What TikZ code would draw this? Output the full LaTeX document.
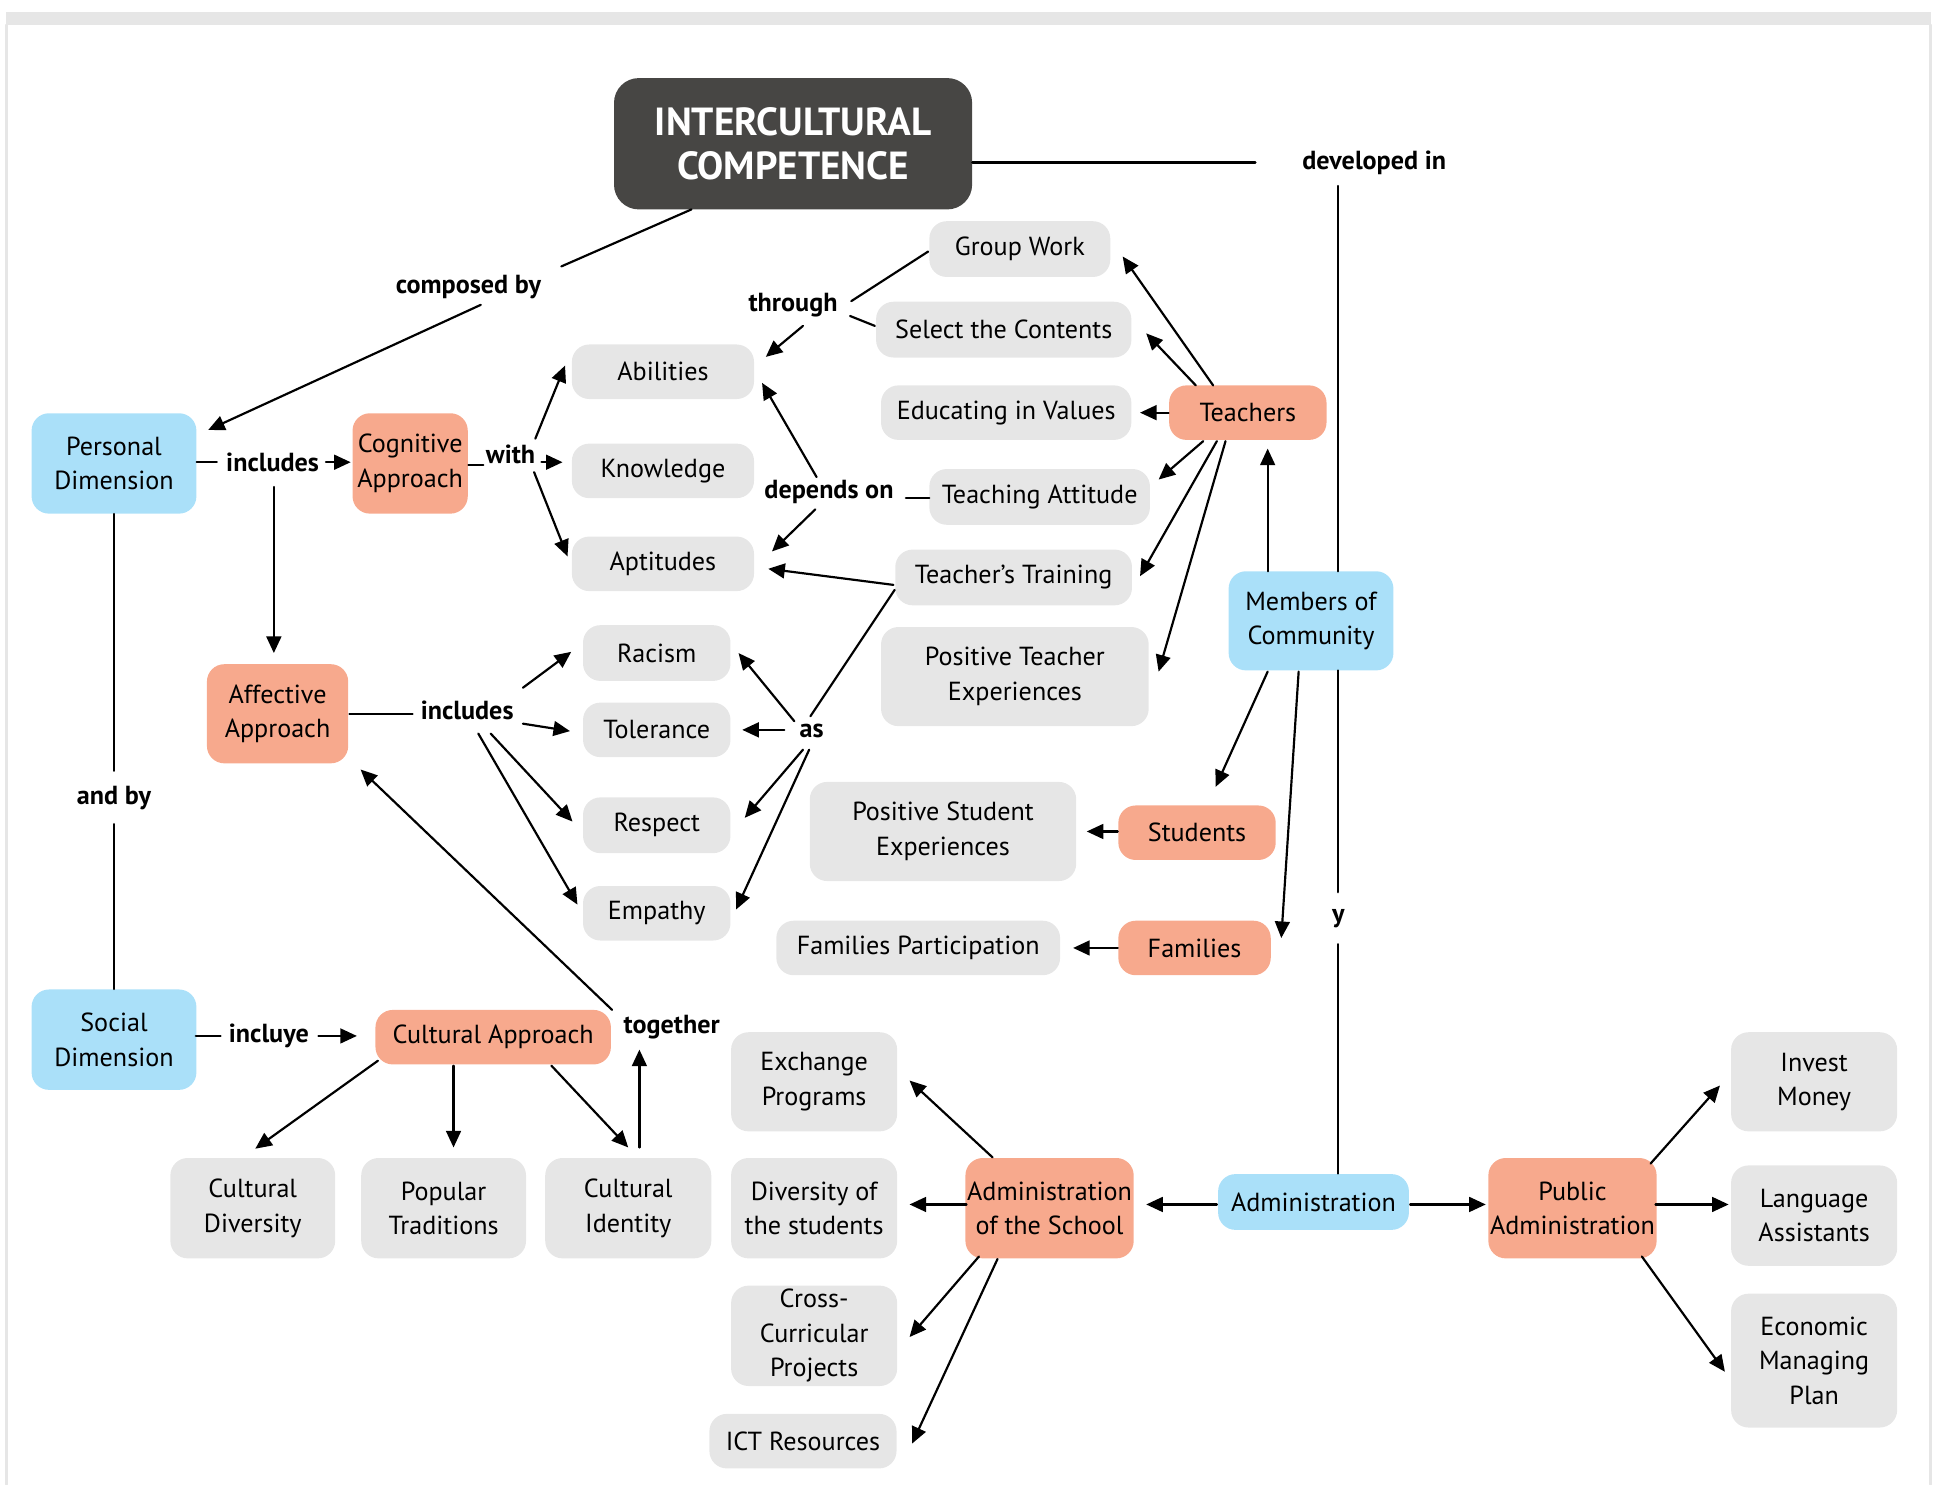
\documentclass[tikz,border=0pt]{standalone}
\usepackage{fontspec}
\setmainfont{PT Sans}
\usetikzlibrary{arrows.meta, calc}
\definecolor{boxgray}{HTML}{E6E6E6}
\definecolor{salmon}{HTML}{F7A98D}
\definecolor{skyblue}{HTML}{AAE0F9}
\definecolor{darkbox}{HTML}{474644}

\begin{document}
\begin{tikzpicture}[x=0.025cm, y=-0.025cm, line cap=round,
  every node/.style={font=\fontsize{15}{19.8}\selectfont, align=center},
  wh/.style 2 args={minimum width=#1*0.025cm, minimum height=#2*0.025cm, inner sep=1pt, rounded corners=0.35cm},
  concept/.style={fill=boxgray},
  approach/.style={fill=salmon},
  dimension/.style={fill=skyblue},
  link/.style={font=\fontsize{15}{18}\selectfont\bfseries, inner sep=1pt},
  conn/.style={line width=1.25pt},
  arr/.style={conn, -{Triangle[length=9.5pt, width=8.5pt]}}]
  \useasboundingbox (0,0) rectangle (1568,1198);
  \fill[boxgray] (5,10) rectangle (1558,20);
  \draw[boxgray, line width=1.5pt] (5,20) -- (5,1198) (1558,20) -- (1558,1198);

  \node[wh={289}{106}, rounded corners=0.5cm, fill=darkbox, text=white, font=\fontsize{22.5}{25}\selectfont\bfseries] (title) at (640,116) {INTERCULTURAL\\COMPETENCE};

  \node[wh={133}{81}, dimension] (pers) at (92,374) {Personal\\Dimension};
  \node[wh={93}{81}, approach] (cogn) at (331,374) {Cognitive\\Approach};
  \node[wh={147}{44}, concept] (abil) at (535,300) {Abilities};
  \node[wh={147}{44}, concept] (know) at (535,380) {Knowledge};
  \node[wh={147}{44}, concept] (apti) at (535,455) {Aptitudes};
  \node[wh={146}{45}, concept] (grpw) at (823,201) {Group Work};
  \node[wh={206}{45}, concept] (selc) at (810,266) {Select the Contents};
  \node[wh={202}{44}, concept] (educ) at (812,333) {Educating in Values};
  \node[wh={127}{44}, approach] (teach) at (1007,333) {Teachers};
  \node[wh={178}{45}, concept] (tatt) at (839,401) {Teaching Attitude};
  \node[wh={191}{45}, concept] (ttra) at (818,466) {Teacher’s Training};
  \node[wh={216}{80}, concept] (ptex) at (819,546) {Positive Teacher\\Experiences};
  \node[wh={133}{80}, dimension] (memb) at (1058,501) {Members of\\Community};
  \node[wh={114}{80}, approach] (affe) at (224,576) {Affective\\Approach};
  \node[wh={119}{45}, concept] (raci) at (530,527) {Racism};
  \node[wh={119}{44}, concept] (tole) at (530,589) {Tolerance};
  \node[wh={119}{45}, concept] (resp) at (530,666) {Respect};
  \node[wh={119}{44}, concept] (empa) at (530,737) {Empathy};
  \node[wh={215}{80}, concept] (psex) at (761,671) {Positive Student\\Experiences};
  \node[wh={127}{44}, approach] (stud) at (966,672) {Students};
  \node[wh={229}{44}, concept] (fpar) at (741,765) {Families Participation};
  \node[wh={123}{44}, approach] (fami) at (964,765) {Families};
  \node[wh={133}{81}, dimension] (soci) at (92,839) {Social\\Dimension};
  \node[wh={190}{44}, approach] (cult) at (398,837) {Cultural Approach};
  \node[wh={133}{81}, concept] (cdiv) at (204,975) {Cultural\\Diversity};
  \node[wh={133}{81}, concept] (popt) at (358,975) {Popular\\Traditions};
  \node[wh={134}{81}, concept] (cide) at (507,975) {Cultural\\Identity};
  \node[wh={134}{80}, concept] (exch) at (657,873) {Exchange\\Programs};
  \node[wh={134}{81}, concept] (dstu) at (657,975) {Diversity of\\the students};
  \node[wh={134}{81}, concept] (ccur) at (657,1078) {Cross-\\Curricular\\Projects};
  \node[wh={151}{44}, concept] (ictr) at (648,1163) {ICT Resources};
  \node[wh={133}{81}, approach] (adms) at (847,975) {Administration\\of the School};
  \node[wh={154}{45}, dimension] (admi) at (1060,970) {Administration};
  \node[wh={133}{81}, approach] (puba) at (1269,975) {Public\\Administration};
  \node[wh={134}{80}, concept] (invm) at (1464,873) {Invest\\Money};
  \node[wh={134}{81}, concept] (lang) at (1464,981) {Language\\Assistants};
  \node[wh={134}{108}, concept] (econ) at (1464,1098) {Economic\\Managing\\Plan};

  \node[link] (lcomp) at (378,232) {composed by};
  \node[link] (ldev) at (1109,131) {developed in};
  \node[link] (lthr) at (640,246) {through};
  \node[link] (linc) at (220,373) {includes};
  \node[link] (lwith) at (412,367) {with};
  \node[link] (ldep) at (669,397) {depends on};
  \node[link] (linc2) at (377,573) {includes};
  \node[link] (las) at (655,590) {as};
  \node[link] (land) at (92,644) {and by};
  \node[link] (lincl) at (217,836) {incluye};
  \node[link] (ltog) at (542,829) {together};
  \node[link] (ly) at (1080,741) {y};

  \draw[conn] ($(title)+(-82,53)$) -- ($(lcomp)+(75,-17)$);
  \draw[arr] ($(lcomp)+(10,14)$) -- ($(pers)+(76,-27)$);
  \draw[conn, line width=1.6pt] (title.east |- ldev) -- ($(ldev)+(-96,0)$);
  \draw[conn] ($(ldev)+(-29,19)$) -- ($(memb)+(22,-40)$);
  \draw[conn] ($(memb)+(22,40)$) -- ($(ly)+(0,-21)$);
  \draw[conn] ($(ly)+(0,21)$) -- ($(admi)+(20,-23)$);

  \draw[conn] (pers.east |- linc) -- ($(linc)+(-45,0)$);
  \draw[arr] ($(linc)+(43,0)$) -- ($(cogn)+(-48,-1)$);
  \draw[arr] ($(linc)+(1,20)$) -- ($(affe)+(-3,-49)$);
  \draw[conn] (pers.south) -- ($(land)+(0,-22)$);
  \draw[conn] ($(land)+(0,21)$) -- (soci.north);

  \draw[conn] ($(cogn)+(47,1)$) -- ($(lwith)+(-22,8)$);
  \draw[arr] ($(lwith)+(20,-13)$) -- ($(abil)+(-79,-5)$);
  \draw[arr] ($(lwith)+(25,6)$) -- ($(know)+(-81,-7)$);
  \draw[arr] ($(lwith)+(19,14)$) -- ($(apti)+(-77,-6)$);

  \draw[conn] ($(grpw)+(-74,2)$) -- ($(lthr)+(47,-3)$);
  \draw[conn] ($(selc)+(-104,-3)$) -- ($(lthr)+(46,9)$);
  \draw[arr] ($(lthr)+(8,17)$) -- ($(abil)+(83,-12)$);

  \draw[arr] ($(teach)+(-28,-22)$) -- ($(grpw)+(83,6)$);
  \draw[arr] ($(teach)+(-42,-22)$) -- ($(selc)+(115,3)$);
  \draw[arr] ($(teach)+(-64,0)$) -- ($(educ)+(108,0)$);
  \draw[arr] ($(teach)+(-36,23)$) -- ($(tatt)+(96,-14)$);
  \draw[arr] ($(teach)+(-25,23)$) -- ($(ttra)+(102,-1)$);
  \draw[arr] ($(teach)+(-18,23)$) -- ($(ptex)+(116,-4)$);

  \draw[conn] ($(tatt)+(-89,1)$) -- ($(ldep)+(62,5)$);
  \draw[arr] ($(ldep)+(-10,-12)$) -- ($(abil)+(80,9)$);
  \draw[arr] ($(ldep)+(-11,14)$) -- ($(apti)+(88,-10)$);
  \draw[arr] ($(ttra)+(-97,6)$) -- ($(apti)+(85,4)$);
  \draw[conn] ($(ttra)+(-96,10)$) -- ($(las)+(-1,-12)$);

  \draw[arr] ($(las)+(-14,-8)$) -- ($(raci)+(66,0)$);
  \draw[arr] ($(las)+(-22,-1)$) -- ($(tole)+(69,0)$);
  \draw[arr] ($(las)+(-7,15)$) -- ($(resp)+(71,-6)$);
  \draw[arr] ($(las)+(-2,15)$) -- ($(empa)+(64,-3)$);

  \draw[conn] ($(affe)+(58,0)$) -- ($(linc2)+(-44,3)$);
  \draw[arr] ($(linc2)+(45,-18)$) -- ($(raci)+(-69,-1)$);
  \draw[arr] ($(linc2)+(45,11)$) -- ($(tole)+(-70,1)$);
  \draw[arr] ($(linc2)+(19,19)$) -- ($(resp)+(-68,-3)$);
  \draw[arr] ($(linc2)+(9,19)$) -- ($(empa)+(-64,-7)$);

  \draw[arr] ($(memb)+(-35,-40)$) -- ($(teach)+(16,29)$);
  \draw[arr] ($(memb)+(-35,41)$) -- ($(stud)+(15,-37)$);
  \draw[arr] ($(memb)+(-10,41)$) -- ($(fami)+(70,-8)$);
  \draw[arr] ($(stud)+(-64,-1)$) -- ($(psex)+(116,0)$);
  \draw[arr] ($(fami)+(-62,0)$) -- ($(fpar)+(125,0)$);

  \draw[conn] ($(soci)+(66,-3)$) -- ($(lincl)+(-39,0)$);
  \draw[arr] ($(lincl)+(40,0)$) -- ($(cult)+(-110,-1)$);
  \draw[arr] ($(cult)+(-93,19)$) -- ($(cdiv)+(2,-48)$);
  \draw[arr] ($(cult)+(-32,23)$) -- ($(popt)+(8,-49)$);
  \draw[arr] ($(cult)+(47,23)$) -- ($(cide)+(0,-49)$);
  \draw[arr] ($(cide)+(9,-49)$) -- ($(ltog)+(-26,18)$);
  \draw[arr] ($(ltog)+(-48,-14)$) -- ($(affe)+(67,45)$);

  \draw[arr] ($(admi)+(-78,2)$) -- ($(adms)+(78,-3)$);
  \draw[arr] ($(admi)+(78,2)$) -- ($(puba)+(-70,-3)$);
  \draw[arr] ($(adms)+(-46,-41)$) -- ($(exch)+(77,-1)$);
  \draw[arr] ($(adms)+(-67,-3)$) -- ($(dstu)+(77,-3)$);
  \draw[arr] ($(adms)+(-57,39)$) -- ($(ccur)+(77,1)$);
  \draw[arr] ($(adms)+(-42,41)$) -- ($(ictr)+(88,2)$);
  \draw[arr] ($(puba)+(63,-36)$) -- ($(invm)+(-76,3)$);
  \draw[arr] ($(puba)+(67,-3)$) -- ($(lang)+(-69,-9)$);
  \draw[arr] ($(puba)+(56,39)$) -- ($(econ)+(-72,9)$);
\end{tikzpicture}
\end{document}
